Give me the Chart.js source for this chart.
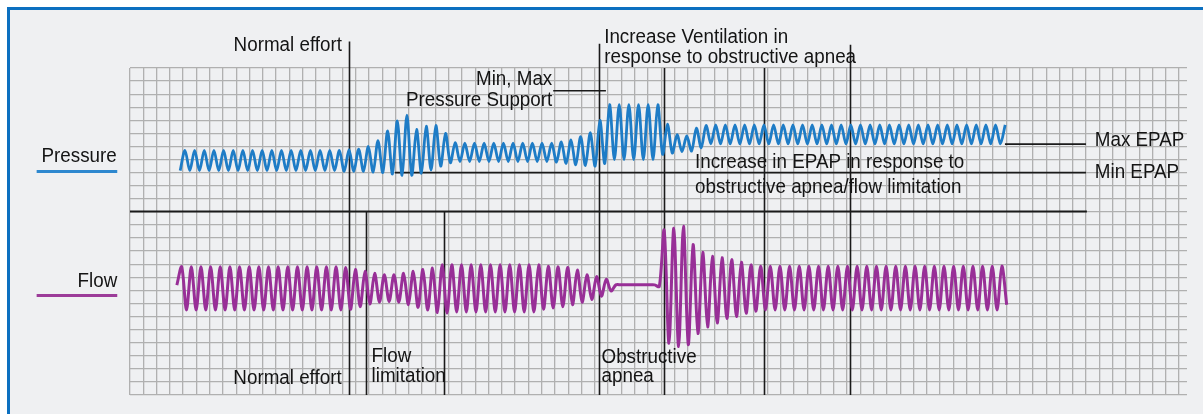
<!DOCTYPE html>
<html>
<head>
<meta charset="utf-8">
<script src="https://cdn.jsdelivr.net/npm/chart.js@4.4.1/dist/chart.umd.min.js"></script>
<style>
  html, body { margin: 0; padding: 0; background: #fff; }
  #frame {
    position: absolute; left: 7px; top: 7px; width: 1196px; height: 407px;
    box-sizing: border-box; background: #eff0f2;
    border-top: 3.5px solid #0c70c0; border-left: 3.5px solid #0c70c0;
  }
  #chart { position: absolute; left: 0; top: 0; }
</style>
</head>
<body>
<div id="frame"></div>
<canvas id="chart" width="1203" height="414"></canvas>
<script>
// values in grid squares, one entry per breath (trough = level just before the peak)
const pressurePeaks = [
  18.7, 18.7, 18.7, 18.7, 18.7, 18.7, 18.7, 18.7, 18.7, 18.7, 18.7, 18.7, 18.7, 18.7, 18.7, 18.7, 18.7,
  18.75, 18.8, 19.0, 19.45, 20.2, 20.95, 21.4, 20.3, 20.55, 20.6, 20.0, 19.3,
  19.25, 19.25, 19.25, 19.25, 19.25, 19.25, 19.25, 19.25, 19.25, 19.25,
  19.35, 19.5, 19.75, 20.05, 21.0, 22.2, 22.2, 22.2, 22.2, 22.2, 22.2, 20.7, 19.9, 19.8, 20.4, 20.6,
  20.65, 20.65, 20.65, 20.65, 20.65, 20.65, 20.65, 20.65, 20.65, 20.65, 20.65, 20.65, 20.65, 20.65, 20.65, 20.65,
  20.65, 20.65, 20.65, 20.65, 20.65, 20.65, 20.65, 20.65, 20.65, 20.65, 20.65, 20.65, 20.65, 20.65, 20.65
];
const pressureTroughs = [
  17.15, 17.15, 17.15, 17.15, 17.15, 17.15, 17.15, 17.15, 17.15, 17.15, 17.15, 17.15, 17.15, 17.15, 17.15, 17.15, 17.15,
  17.1, 17.1, 17.1, 17.05, 17.0, 16.9, 16.8, 16.8, 16.95, 17.2, 17.5, 17.75,
  17.85, 17.85, 17.85, 17.85, 17.85, 17.85, 17.85, 17.85, 17.85, 17.85,
  17.8, 17.7, 17.6, 17.55, 17.5, 17.7, 18.0, 18.0, 18.0, 18.0, 18.0, 18.4, 18.5, 18.6, 18.65, 18.9,
  19.2, 19.2, 19.2, 19.2, 19.2, 19.2, 19.2, 19.2, 19.2, 19.2, 19.2, 19.2, 19.2, 19.2, 19.2, 19.2,
  19.2, 19.2, 19.2, 19.2, 19.2, 19.2, 19.2, 19.2, 19.2, 19.2, 19.2, 19.2, 19.2, 19.2, 19.2
];
const flowPeaks = [
  9.8, 9.8, 9.8, 9.8, 9.8, 9.8, 9.8, 9.8, 9.8, 9.8, 9.8, 9.8, 9.8, 9.8, 9.8, 9.8, 9.8,
  9.75, 9.6, 9.45, 9.3, 9.2, 9.2, 9.3, 9.45, 9.6, 9.7, 9.95, 9.95,
  9.95, 9.95, 9.95, 9.95, 9.95, 9.95, 9.95, 9.95, 9.95,
  9.85, 9.8, 9.75, 9.55, 9.2, 9.05, 8.85,
  8.42, 8.42, 8.42, 8.42, 8.42,
  12.6, 12.75, 12.9, 11.5, 10.9, 10.6, 10.5, 10.35, 10.15, 9.95,
  9.85, 9.85, 9.85, 9.85, 9.85, 9.85, 9.85, 9.85, 9.85, 9.85, 9.85, 9.85, 9.85,
  9.85, 9.85, 9.85, 9.85, 9.85, 9.85, 9.85, 9.85, 9.85, 9.85, 9.85, 9.85, 9.85
];
const flowTroughs = [
  8.4,
  6.5, 6.5, 6.5, 6.5, 6.5, 6.5, 6.5, 6.5, 6.5, 6.5, 6.5, 6.5, 6.5, 6.5, 6.5, 6.5,
  6.5, 6.55, 6.75, 6.95, 7.1, 7.15, 7.1, 6.9, 6.7, 6.5, 6.3, 6.25,
  6.35, 6.35, 6.35, 6.35, 6.35, 6.35, 6.35, 6.35, 6.35,
  6.55, 6.65, 6.75, 6.9, 7.1, 7.3, 7.55,
  7.95, 8.42, 8.42, 8.42, 8.42,
  8.3, 3.95, 3.7, 3.85, 4.7, 5.2, 5.5, 5.85, 6.0, 6.25,
  6.4, 6.5, 6.5, 6.5, 6.5, 6.5, 6.5, 6.5, 6.5, 6.5, 6.5, 6.5, 6.5,
  6.5, 6.5, 6.5, 6.5, 6.5, 6.5, 6.5, 6.5, 6.5, 6.5, 6.5, 6.5, 6.5,
  6.9
];

// time base in grid squares
const breathPeriod = 0.7267;
const pressureStart = 4.14;
const flowStart = 3.89;

function wavePoints(start, troughs, peaks) {
  const pts = [];
  for (let i = 0; i < troughs.length; i++) {
    pts.push({ x: start + (i - 0.5) * breathPeriod, y: troughs[i] });
    if (i < peaks.length) pts.push({ x: start + i * breathPeriod, y: peaks[i] });
  }
  return pts;
}

// annotation geometry, grid squares
const vLines = [[16.51, 27.03, 0], [17.81, 14.0, 0], [23.67, 14.0, 0], [35.35, 26.86, 0],
                [40.23, 25.0, 0], [47.78, 25.0, 0], [54.22, 26.78, 0]];
const hLines = [[14.02, 0, 72.06, 2], [17.0, 19.95, 71.99, 1.6], [19.18, 65.89, 71.99, 1.6], [23.26, 31.87, 35.84, 1.6]];
const notes = [
  ['Normal effort', 15.96, 26.27, 'right'],
  ['Increase Ventilation in', 35.71, 26.91, 'left'],
  ['response to obstructive apnea', 35.71, 25.38, 'left'],
  ['Min, Max', 31.8, 23.72, 'right'],
  ['Pressure Support', 31.8, 22.11, 'right'],
  ['Increase in EPAP in response to', 42.55, 17.35, 'left'],
  ['obstructive apnea/flow limitation', 42.55, 15.43, 'left'],
  ['Max EPAP', 72.66, 19.07, 'left'],
  ['Min EPAP', 72.66, 16.58, 'left'],
  ['Pressure', -1.0, 17.85, 'right'],
  ['Flow', -0.96, 8.29, 'right'],
  ['Normal effort', 15.94, 0.84, 'right'],
  ['Flow', 18.19, 2.55, 'left'],
  ['limitation', 18.19, 1.02, 'left'],
  ['Obstructive', 35.51, 2.43, 'left'],
  ['apnea', 35.51, 1.02, 'left']
];
const keys = [['#2e88cf', 17.08], ['#9c3c99', 7.6]];

const annotate = {
  id: 'annotate',
  beforeDatasetsDraw(chart) {
    const { ctx, scales: { x, y } } = chart;
    ctx.save();
    ctx.strokeStyle = '#1a1a1a';
    ctx.lineWidth = 1.6;
    vLines.forEach(([u, v0, v1]) => {
      ctx.beginPath();
      ctx.moveTo(Math.round(x.getPixelForValue(u)) + 0.5, y.getPixelForValue(v0));
      ctx.lineTo(Math.round(x.getPixelForValue(u)) + 0.5, y.getPixelForValue(v1));
      ctx.stroke();
    });
    hLines.forEach(([v, u0, u1, w]) => {
      ctx.lineWidth = w;
      ctx.beginPath();
      ctx.moveTo(x.getPixelForValue(u0), y.getPixelForValue(v));
      ctx.lineTo(x.getPixelForValue(u1), y.getPixelForValue(v));
      ctx.stroke();
    });
    ctx.restore();
  },
  afterDatasetsDraw(chart) {
    const { ctx, scales: { x, y } } = chart;
    ctx.save();
    ctx.fillStyle = '#141414';
    ctx.font = '20px "Liberation Sans", Arial, sans-serif';
    ctx.textBaseline = 'alphabetic';
    notes.forEach(([t, u, v, align]) => {
      ctx.save();
      ctx.translate(x.getPixelForValue(u), y.getPixelForValue(v));
      ctx.scale(0.94, 1);
      ctx.textAlign = align;
      ctx.fillText(t, 0, 0);
      ctx.restore();
    });
    ctx.lineWidth = 3;
    keys.forEach(([c, v]) => {
      ctx.strokeStyle = c;
      ctx.beginPath();
      ctx.moveTo(x.getPixelForValue(-7.03), y.getPixelForValue(v));
      ctx.lineTo(x.getPixelForValue(-0.96), y.getPixelForValue(v));
      ctx.stroke();
    });
    ctx.restore();
  }
};

new Chart(document.getElementById('chart'), {
  type: 'line',
  data: {
    datasets: [{
      label: 'Pressure',
      data: wavePoints(pressureStart, pressureTroughs, pressurePeaks),
      borderColor: '#1e7cc6',
      borderWidth: 2.8,
      pointRadius: 0,
      tension: 0.3
    }, {
      label: 'Flow',
      data: wavePoints(flowStart, flowTroughs, flowPeaks),
      borderColor: '#982f97',
      borderWidth: 3,
      pointRadius: 0,
      tension: 0.3
    }]
  },
  options: {
    responsive: false,
    animation: false,
    layout: { padding: { left: 130, right: 16, top: 68, bottom: 19 } },
    plugins: { legend: { display: false }, tooltip: { enabled: false } },
    scales: {
      x: {
        type: 'linear', min: 0, max: 79.6,
        ticks: { display: false, stepSize: 1, includeBounds: false },
        grid: { color: '#b0b0b0', lineWidth: 1.3, drawTicks: false },
        border: { display: false }
      },
      y: {
        type: 'linear', min: 0, max: 25,
        ticks: { display: false, stepSize: 1 },
        grid: { color: '#b0b0b0', lineWidth: 1.3, drawTicks: false },
        border: { display: false }
      }
    }
  },
  plugins: [annotate]
});
</script>
</body>
</html>
